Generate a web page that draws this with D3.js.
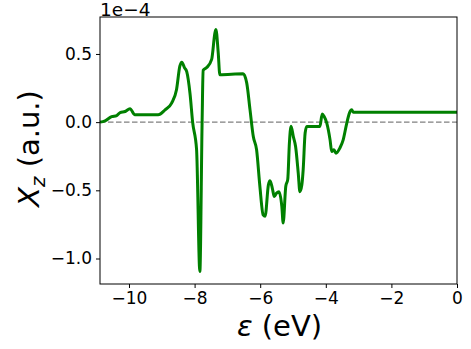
<!DOCTYPE html>
<html>
<head>
<meta charset="utf-8">
<script src="https://cdn.jsdelivr.net/npm/d3@7"></script>
<style>
  body { margin: 0; background: #fff; }
  svg { display: block; }
  text { font-family: "DejaVu Sans", sans-serif; }
</style>
</head>
<body>
<svg id="chart" width="471" height="349"></svg>
<script>
// Energy (eV)
const energy = [-10.884, -10.73, -10.53, -10.375, -10.27, -10.12, -9.97, -9.82, -9.11, -8.90, -8.70, -8.55, -8.45, -8.39, -8.31, -8.24, -8.14, -8.06, -7.94, -7.84, -7.77, -7.74, -7.63, -7.48, -7.38, -7.35, -7.28, -7.23, -6.52, -6.41, -6.31, -6.21, -6.11, -6.01, -5.91, -5.85, -5.75, -5.70, -5.63, -5.57, -5.50, -5.43, -5.34, -5.30, -5.22, -5.16, -5.11, -5.06, -4.99, -4.92, -4.84, -4.79, -4.73, -4.69, -4.63, -4.58, -4.18, -4.11, -4.05, -3.97, -3.87, -3.82, -3.75, -3.69, -3.57, -3.47, -3.36, -3.28, -3.21, -3.16, 0];
// X_z in units of 1e-4
const xz = [0, 0.01, 0.04, 0.048, 0.07, 0.078, 0.098, 0.054, 0.054, 0.09, 0.14, 0.24, 0.41, 0.44, 0.40, 0.37, 0.21, 0.0, -0.20, -1.096, 0.017, 0.38, 0.40, 0.46, 0.655, 0.68, 0.51, 0.347, 0.354, 0.286, 0.09, -0.106, -0.203, -0.47, -0.68, -0.69, -0.46, -0.43, -0.485, -0.546, -0.52, -0.51, -0.62, -0.74, -0.47, -0.42, -0.154, -0.03, -0.106, -0.18, -0.374, -0.51, -0.46, -0.35, -0.08, -0.032, -0.032, 0.059, 0.041, -0.007, -0.13, -0.216, -0.203, -0.228, -0.19, -0.13, -0.007, 0.066, 0.09, 0.073, 0.072];
const xTicks = [-10, -8, -6, -4, -2, 0];
const yTicks = [-1.0, -0.5, 0.0, 0.5];

const svg = d3.select("#chart");
const L = 100, R = 457, T = 17, B = 284;

const x = d3.scaleLinear().domain([-10.884, 0]).range([L, R]);
const y = d3.scaleLinear().domain([-1.187, 0.771]).range([B, T]);

// zero dashed line
svg.append("line")
  .attr("x1", L).attr("x2", R)
  .attr("y1", y(0)).attr("y2", y(0))
  .attr("stroke", "#808080").attr("stroke-width", 1.3)
  .attr("stroke-dasharray", "5.5,2.5");

const data = energy.map((e, i) => [e, xz[i]]);
svg.append("path")
  .datum(data)
  .attr("fill", "none")
  .attr("stroke", "#008000")
  .attr("stroke-width", 3)
  .attr("stroke-linejoin", "round")
  .attr("d", d3.line().curve(d3.curveMonotoneX).x(d => x(d[0])).y(d => y(d[1])));

const fmtMinus = s => s.replace("-", "\u2212");

const xAxis = svg.append("g")
  .attr("transform", `translate(0,${B})`)
  .call(d3.axisBottom(x).tickValues(xTicks).tickSize(4).tickPadding(4)
    .tickFormat(d => fmtMinus(d3.format("d")(d))));
const yAxis = svg.append("g")
  .attr("transform", `translate(${L},0)`)
  .call(d3.axisLeft(y).tickValues(yTicks).tickSize(4).tickPadding(4)
    .tickFormat(d => fmtMinus(d3.format(".1f")(d))));
[xAxis, yAxis].forEach(g => {
  g.select(".domain").remove();
  g.selectAll("text").attr("font-size", 17).attr("fill", "#000")
    .style("font-family", "DejaVu Sans");
  g.selectAll("line").attr("stroke", "#000").attr("stroke-width", 1);
});

// frame
svg.append("rect")
  .attr("x", L).attr("y", T).attr("width", R - L).attr("height", B - T)
  .attr("fill", "none").attr("stroke", "#000").attr("stroke-width", 1);

// offset text
svg.append("text").attr("x", L).attr("y", 15.5)
  .attr("font-size", 18.5).text("1e\u22124");

// x label
const xl = svg.append("text")
  .attr("x", (L + R) / 2 + 1).attr("y", 336)
  .attr("text-anchor", "middle").attr("font-size", 29);
xl.append("tspan").attr("font-style", "italic").text("\u03b5");
xl.append("tspan").text(" (eV)");

// y label
const yl = svg.append("text")
  .attr("transform", `translate(39,${(T + B) / 2 - 2}) rotate(-90)`)
  .attr("text-anchor", "middle").attr("font-size", 29);
yl.append("tspan").attr("font-style", "italic").text("X");
yl.append("tspan").attr("font-style", "italic").attr("font-size", 20).attr("dy", 6).text("z");
yl.append("tspan").attr("dy", -6).text(" (a.u.)");
</script>
</body>
</html>
